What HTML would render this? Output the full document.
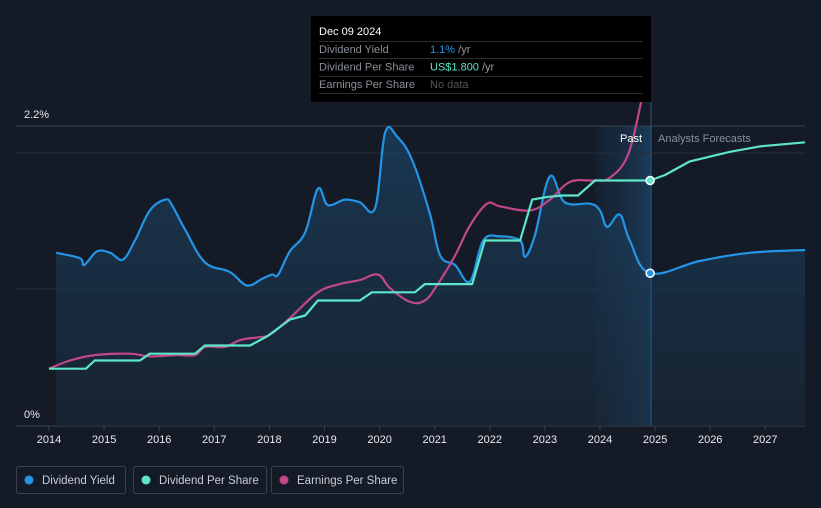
<!DOCTYPE html>
<html><head><meta charset="utf-8"><style>
body{margin:0;background:#151b26;font-family:"Liberation Sans",sans-serif;}
svg{display:block}
</style></head><body>
<svg width="821" height="508" id="c">
<defs>
<linearGradient id="yf" x1="0" y1="0" x2="0" y2="1"><stop offset="0" stop-color="#1b4466" stop-opacity="0.7"/><stop offset="1" stop-color="#1a2a3c" stop-opacity="0.55"/></linearGradient>
<linearGradient id="pf" x1="0" y1="0" x2="1" y2="0"><stop offset="0" stop-color="#1a3550" stop-opacity="0.2"/><stop offset="1" stop-color="#1d4a70" stop-opacity="0.7"/></linearGradient>
</defs>
<rect width="821" height="508" fill="#151b26"/>
<g id="grid"></g>
<g id="marks"></g>
</svg>
<script>
const years=[2014,2015,2016,2017,2018,2019,2020,2021,2022,2023,2024,2025,2026,2027];
const yieldT=[2014.13,2014.56,2014.64,2014.87,2015.11,2015.34,2015.56,2015.83,2016.11,2016.23,2016.47,2016.83,2017.28,2017.59,2017.87,2018.05,2018.16,2018.37,2018.65,2018.88,2019.06,2019.37,2019.64,2019.92,2020.10,2020.32,2020.59,2020.91,2021.10,2021.37,2021.64,2021.88,2022.19,2022.55,2022.64,2022.82,2023.09,2023.36,2023.82,2024.00,2024.13,2024.36,2024.54,2024.91,2025.81,2026.72,2027.72];
const yieldV=[1.27,1.23,1.18,1.28,1.27,1.22,1.36,1.58,1.66,1.62,1.44,1.20,1.13,1.03,1.08,1.11,1.11,1.28,1.42,1.74,1.62,1.66,1.64,1.60,2.15,2.12,1.95,1.56,1.25,1.18,1.06,1.36,1.39,1.36,1.24,1.40,1.83,1.64,1.63,1.58,1.46,1.55,1.36,1.12,1.21,1.27,1.29];
const dpsT=[2014.0,2014.67,2014.83,2015.65,2015.83,2016.65,2016.83,2017.65,2017.97,2018.37,2018.65,2018.88,2019.64,2019.86,2020.64,2020.82,2021.68,2021.91,2022.55,2022.77,2023.06,2023.33,2023.60,2023.91,2024.91,2025.18,2025.63,2026.36,2026.90,2027.72];
const dpsV=[0.42,0.42,0.48,0.48,0.53,0.53,0.59,0.59,0.66,0.78,0.81,0.92,0.92,0.98,0.98,1.04,1.04,1.36,1.36,1.66,1.68,1.69,1.69,1.80,1.80,1.84,1.94,2.01,2.05,2.08];
const epsT=[2014.0,2014.38,2014.83,2015.47,2015.83,2016.29,2016.65,2016.83,2017.19,2017.47,2017.79,2018.01,2018.37,2018.88,2019.28,2019.64,2019.97,2020.19,2020.55,2020.82,2021.04,2021.37,2021.64,2021.95,2022.19,2022.73,2023.09,2023.46,2023.91,2024.18,2024.51,2024.76];
const epsV=[0.42,0.48,0.52,0.53,0.51,0.52,0.52,0.58,0.58,0.63,0.65,0.67,0.79,0.98,1.04,1.07,1.11,1.01,0.91,0.92,1.03,1.25,1.47,1.63,1.61,1.58,1.66,1.79,1.80,1.82,1.99,2.40];
const yTicks=["0%","2.2%"];

const NS="http://www.w3.org/2000/svg";
const x=t=>49+(t-2014)*55.1;
const y=v=>426-v*136.4;
const grid=document.getElementById('grid'),marks=document.getElementById('marks');
function el(tag,attrs,parent,txt){const e=document.createElementNS(NS,tag);for(const k in attrs)e.setAttribute(k,attrs[k]);if(txt!==undefined)e.textContent=txt;parent.appendChild(e);return e;}
function smooth(T,V){
 const P=T.map((t,i)=>[x(t),y(V[i])]);let d='M'+P[0][0].toFixed(1)+','+P[0][1].toFixed(1);
 for(let i=0;i<P.length-1;i++){const p0=P[i-1]||P[i],p1=P[i],p2=P[i+1],p3=P[i+2]||p2;const k=0.18;
  d+=' C'+(p1[0]+(p2[0]-p0[0])*k).toFixed(1)+','+(p1[1]+(p2[1]-p0[1])*k).toFixed(1)+' '+(p2[0]-(p3[0]-p1[0])*k).toFixed(1)+','+(p2[1]-(p3[1]-p1[1])*k).toFixed(1)+' '+p2[0].toFixed(1)+','+p2[1].toFixed(1);}
 return d;}

let e;
e=el('rect',{x:595,y:126,width:56,height:300,fill:'url(#pf)'},grid);


[126,153,289].forEach(gy=>{el('line',{x1:16,x2:805,y1:gy,y2:gy,stroke:gy==126?'#3a414c':'#262d38','stroke-width':1},grid);});
e=el('line',{x1:16,x2:805,y1:426,y2:426,stroke:'#3b424e','stroke-width':1},grid);


years.forEach(yr=>{
 el('line',{x1:x(yr),x2:x(yr),y1:426,y2:431,stroke:'#3b424e'},grid);
 const t=el('text',{x:x(yr),y:443,fill:'#e8eaee','font-size':11,'text-anchor':'middle'},grid,String(yr));
 
 
});
e=el('text',{x:24,y:118,fill:'#e8eaee','font-size':11},grid,yTicks[1]);


e=el('text',{x:24,y:418,fill:'#e8eaee','font-size':11},grid,yTicks[0]);



const yd=smooth(yieldT,yieldV);
e=el('path',{d:yd+' L'+x(yieldT[yieldT.length-1])+',426 L'+x(yieldT[0])+',426 Z',fill:'url(#yf)'},marks);


const clip=el('clipPath',{id:'cp'},marks);el('rect',{x:0,y:80,width:821,height:346},clip);
e=el('path',{d:yd,fill:'none',stroke:'#2394e6','stroke-width':2.2,'stroke-linejoin':'round'},marks);


e=el('path',{d:smooth(epsT,epsV),fill:'none',stroke:'#c0478a','stroke-width':2.2,'stroke-linejoin':'round','clip-path':'url(#cp)'},marks);


e=el('polyline',{points:dpsT.map((t,i)=>x(t).toFixed(1)+','+y(dpsV[i]).toFixed(1)).join(' '),fill:'none',stroke:'#5ee6c8','stroke-width':2.2,'stroke-linejoin':'round'},marks);


e=el('line',{x1:651,x2:651,y1:102,y2:426,stroke:'#2a5a80','stroke-width':1},marks);


e=el('circle',{cx:x(2024.91),cy:y(1.12),r:4,fill:'#2394e6',stroke:'#fff','stroke-width':1.5},marks);


e=el('circle',{cx:x(2024.91),cy:y(1.80),r:4,fill:'#5ee6c8',stroke:'#fff','stroke-width':1.5},marks);


e=el('text',{x:642,y:142,fill:'#fff','font-size':11,'text-anchor':'end'},marks,'Past');


e=el('text',{x:658,y:142,fill:'#8a9099','font-size':11},marks,'Analysts Forecasts');



const tg=el('g',{},marks);


el('rect',{x:311,y:16,width:340,height:86,fill:'#000'},tg);
el('text',{x:319,y:35,fill:'#fff','font-size':11},tg,'Dec 09 2024');
[41.5,58.5,76.5,93.5].forEach(ly=>el('line',{x1:319,x2:643,y1:ly,y2:ly,stroke:'#2e2e2e','stroke-width':1},tg));
const rows=[['Dividend Yield','1.1%','#2394e6',' /yr'],['Dividend Per Share','US$1.800','#5ee6c8',' /yr'],['Earnings Per Share','No data','#555','']];
rows.forEach((r,i)=>{const yy=53+i*17.5;
 el('text',{x:319,y:yy,fill:'#8a8f98','font-size':11},tg,r[0]);
 const t=el('text',{x:430,y:yy,'font-size':11,fill:r[2]},tg,r[1]);
 const s=document.createElementNS(NS,'tspan');s.setAttribute('fill','#999');s.textContent=r[3];t.appendChild(s);
});

const leg=[['Dividend Yield','#2394e6',16,109],['Dividend Per Share','#5ee6c8',133,133],['Earnings Per Share','#c0478a',271,132]];
leg.forEach(l=>{
 const g=el('g',{},marks);
 
 
 el('rect',{x:l[2]+0.5,y:466.5,width:l[3],height:27,rx:2,fill:'none',stroke:'#3a414c'},g);
 el('circle',{cx:l[2]+13,cy:480,r:4.5,fill:l[1]},g);
 el('text',{x:l[2]+26,y:484,fill:'#c8ccd2','font-size':11.5},g,l[0]);
});
</script>
</body></html>
